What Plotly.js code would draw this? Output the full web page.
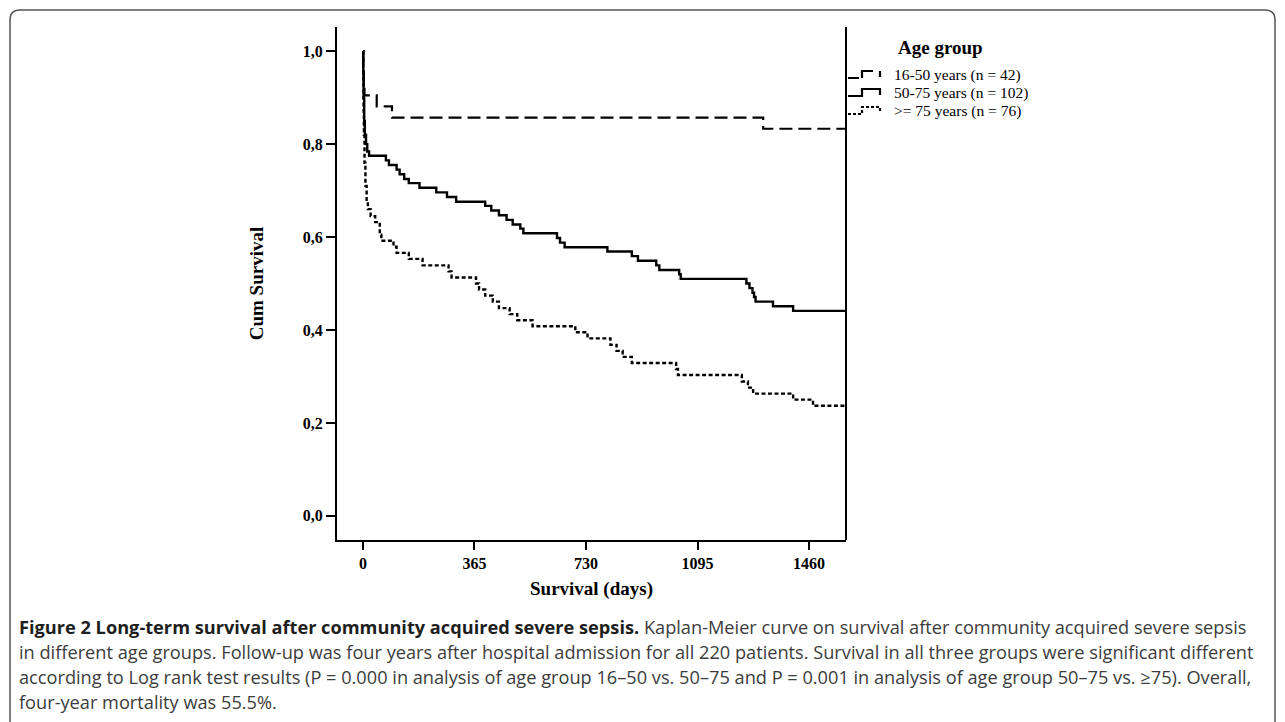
<!DOCTYPE html>
<html>
<head>
<meta charset="utf-8">
<script src="https://cdn.plot.ly/plotly-3.0.1.min.js"></script>
<style>
html,body{margin:0;padding:0;background:#fff;}
#chart{width:1285px;height:722px;}
</style>
</head>
<body>
<div id="chart"></div>
<script>
// ---- data ----
const legendTitle = "Age group";
const groupNames = ["16-50 years (n = 42)", "50-75 years (n = 102)", ">= 75 years (n = 76)"];
const days16_50 = [0, 1, 2, 3, 5, 45, 95, 1310, 1581];
const surv16_50 = [1.0, 0.976, 0.952, 0.929, 0.905, 0.881, 0.857, 0.833, 0.833];
const days50_75 = [0, 1, 2, 4, 6, 10, 14, 20, 75, 85, 110, 120, 135, 150, 185, 240, 275, 305, 400, 420, 445, 470, 490, 515, 525, 635, 645, 660, 800, 880, 900, 960, 970, 1035, 1040, 1255, 1265, 1275, 1280, 1285, 1342, 1408, 1581];
const surv50_75 = [1.0, 0.95, 0.90, 0.85, 0.82, 0.80, 0.784, 0.775, 0.765, 0.755, 0.745, 0.735, 0.725, 0.716, 0.706, 0.696, 0.686, 0.676, 0.667, 0.657, 0.647, 0.637, 0.627, 0.618, 0.608, 0.598, 0.588, 0.578, 0.569, 0.559, 0.549, 0.539, 0.529, 0.520, 0.510, 0.500, 0.490, 0.480, 0.471, 0.461, 0.451, 0.441, 0.441];
const days75 = [0, 1, 2, 3, 5, 8, 12, 16, 25, 40, 55, 60, 100, 110, 150, 195, 280, 290, 370, 380, 400, 425, 445, 480, 505, 555, 695, 735, 810, 830, 850, 880, 1025, 1031, 1240, 1260, 1277, 1408, 1473, 1581];
const surv75 = [1.0, 0.93, 0.87, 0.82, 0.76, 0.71, 0.68, 0.66, 0.645, 0.632, 0.605, 0.592, 0.579, 0.566, 0.553, 0.539, 0.526, 0.513, 0.500, 0.487, 0.474, 0.461, 0.447, 0.434, 0.421, 0.408, 0.395, 0.382, 0.368, 0.355, 0.342, 0.329, 0.316, 0.303, 0.289, 0.276, 0.263, 0.250, 0.237, 0.237];
const xTickVals = [0, 365, 730, 1095, 1460];
const xTickText = ["0", "365", "730", "1095", "1460"];
const yTickVals = [0, 0.2, 0.4, 0.6, 0.8, 1.0];
const yTickText = ["0,0", "0,2", "0,4", "0,6", "0,8", "1,0"];
const captionBold = "Figure 2 Long-term survival after community acquired severe sepsis.";
const captionLines = [
  " Kaplan-Meier curve on survival after community acquired severe sepsis",
  "in different age groups. Follow-up was four years after hospital admission for all 220 patients. Survival in all three groups were significant different",
  "according to Log rank test results (P = 0.000 in analysis of age group 16–50 vs. 50–75 and P = 0.001 in analysis of age group 50–75 vs. ≥75). Overall,",
  "four-year mortality was 55.5%."
];

// ---- layout geometry ----
const W = 1285, H = 722;
const L = 337, R = 846, T = 27, B = 540;
const px = x => (x - L) / (R - L);
const py = y => (B - y) / (B - T);

const serif = "Liberation Serif, Times New Roman, serif";
const dashes = ["13px,6px", "solid", "4px,2.5px"];
const widths = [2.2, 2.4, 2.4];

const seriesX = [days16_50, days50_75, days75];
const seriesY = [surv16_50, surv50_75, surv75];
const traces = seriesX.map((xs, i) => ({
  x: xs, y: seriesY[i], name: groupNames[i], mode: "lines", showlegend: false,
  line: {shape: "hv", color: "#000", width: widths[i], dash: dashes[i]}
}));

const captionFont = {family: "Open Sans, sans-serif", size: 18.2, color: "#3c3c3c"};
const annotations = captionLines.map((t, i) => ({
  text: (i === 0 ? `<span style="color:#1e1e1e"><b>${captionBold}</b></span>` : "") + t,
  xref: "paper", yref: "paper", x: px(17), y: py(627 + i * 25),
  xanchor: "left", yanchor: "middle", showarrow: false, align: "left",
  font: captionFont
}));

// legend (title + entries) drawn beside the plot
annotations.push({
  text: "<b>" + legendTitle + "</b>", xref: "paper", yref: "paper",
  x: px(896), y: py(47), xanchor: "left", yanchor: "middle", showarrow: false,
  font: {family: serif, size: 19, color: "#000"}
});
const shapes = [];
groupNames.forEach((name, i) => {
  const yc = 75 + 18 * i;
  annotations.push({
    text: name, xref: "paper", yref: "paper", x: px(892), y: py(yc),
    xanchor: "left", yanchor: "middle", showarrow: false,
    font: {family: serif, size: 15.5, color: "#000"}
  });
  let path;
  if (i === 0) {
    path = `M ${px(848)} ${py(yc + 3)} L ${px(859)} ${py(yc + 3)} M ${px(862)} ${py(yc + 3)} L ${px(862)} ${py(yc - 4)} L ${px(873)} ${py(yc - 4)} M ${px(880)} ${py(yc - 4)} L ${px(880)} ${py(yc + 2)}`;
    shapes.push({type: "path", xref: "paper", yref: "paper", path: path, line: {color: "#000", width: 2.2}});
  } else {
    path = `M ${px(848)} ${py(yc + 3)} L ${px(862)} ${py(yc + 3)} L ${px(862)} ${py(yc - 4)} L ${px(880)} ${py(yc - 4)} L ${px(880)} ${py(yc + 2)}`;
    shapes.push({type: "path", xref: "paper", yref: "paper", path: path,
      line: {color: "#000", width: 2.2, dash: i === 2 ? "3px,2px" : "solid"}});
  }
});

const r = 10;
const bx0 = px(10), bx1 = px(1275), by0 = py(10), byb = py(760);
const border = `M ${bx0} ${byb} L ${bx0} ${py(10 + r)} Q ${bx0} ${by0} ${px(10 + r)} ${by0} L ${px(1275 - r)} ${by0} Q ${bx1} ${by0} ${bx1} ${py(10 + r)} L ${bx1} ${byb}`;
shapes.push({type: "line", xref: "paper", yref: "paper", x0: 1, x1: 1, y0: 0, y1: 1,
  line: {color: "#000", width: 2}});
shapes.push({type: "path", xref: "paper", yref: "paper", path: border,
  line: {color: "#555", width: 1.5}, layer: "above"});

const layout = {
  width: W, height: H,
  margin: {l: L, r: W - R, t: T, b: H - B, pad: 0},
  paper_bgcolor: "#fff", plot_bgcolor: "#fff",
  showlegend: false,
  xaxis: {
    range: [-85, 1581], tickmode: "array", tickvals: xTickVals, ticktext: xTickText,
    showgrid: false, zeroline: false, showline: true, linecolor: "#000", linewidth: 2,
    ticks: "outside", ticklen: 8, tickwidth: 2, tickcolor: "#000",
    tickfont: {family: serif, size: 16, color: "#000", weight: "bold"},
    title: {text: "<b>Survival (days)</b>", font: {family: serif, size: 19, color: "#000"}, standoff: 10},
    fixedrange: true
  },
  yaxis: {
    range: [-0.052, 1.052], tickmode: "array", tickvals: yTickVals, ticktext: yTickText,
    showgrid: false, zeroline: false, showline: true, linecolor: "#000", linewidth: 2,
    ticks: "outside", ticklen: 9, tickwidth: 2, tickcolor: "#000",
    tickfont: {family: serif, size: 16, color: "#000", weight: "bold"},
    title: {text: "<b>Cum Survival</b>", font: {family: serif, size: 19, color: "#000"}, standoff: 34},
    fixedrange: true
  },
  shapes: shapes,
  annotations: annotations
};

Plotly.newPlot("chart", traces, layout, {displayModeBar: false, staticPlot: true});
</script>
</body>
</html>
